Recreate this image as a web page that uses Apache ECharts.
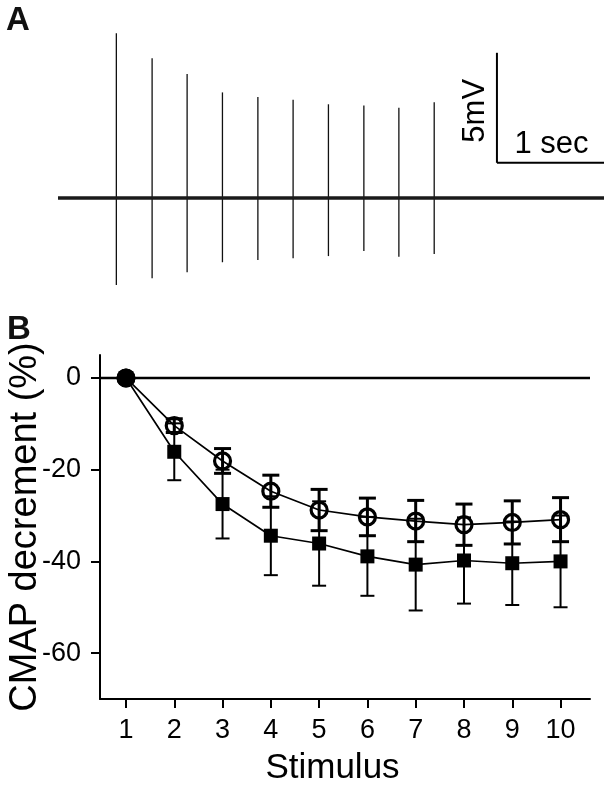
<!DOCTYPE html>
<html>
<head>
<meta charset="utf-8">
<script src="https://cdn.jsdelivr.net/npm/echarts@6/dist/echarts.min.js"></script>
<style>
html,body{margin:0;padding:0;background:#fff;}
#chart{width:612px;height:787px;}
</style>
</head>
<body>
<div id="chart"></div>
<script>
// ---------- Panel A: recording trace ----------
const spikeTimes  = [0.545, 0.879, 1.206, 1.536, 1.867, 2.196, 2.526, 2.857, 3.184, 3.514]; // s
const spikeTop    = [7.49, 6.35, 5.64, 4.80, 4.59, 4.47, 4.26, 4.21, 4.10, 4.35];           // mV
const spikeBottom = [-3.95, -3.65, -3.38, -2.92, -2.82, -2.74, -2.64, -2.41, -2.67, -2.55]; // mV
const traceTimes  = [0, 5.1];
const traceValues = [0, 0];
const scaleBar    = [4.1, 1.6, 1, 5]; // origin time, origin mV, 1 sec, 5 mV
const scaleLabels = ['5mV', '1 sec'];

// ---------- Panel B: CMAP decrement ----------
const stimulus    = [1, 2, 3, 4, 5, 6, 7, 8, 9, 10];
const circleMean  = [0, -10.4, -18.1, -24.7, -28.8, -30.3, -31.2, -32.0, -31.5, -30.9];
const circleSD    = [0, 1.5, 2.7, 3.5, 4.5, 4.1, 4.5, 4.5, 4.7, 4.8];
const squareMean  = [0, -16.1, -27.5, -34.4, -36.1, -38.9, -40.7, -39.8, -40.4, -40.0];
const squareSD    = [0, 6.2, 7.5, 8.6, 9.2, 8.6, 10.0, 9.4, 9.1, 10.0];
const yTicks      = [0, -20, -40, -60];
const xTicks      = [1, 2, 3, 4, 5, 6, 7, 8, 9, 10];

const FONT = 'Liberation Sans, Arial, sans-serif';

function errBars(lw, cap) {
  return function (params, api) {
    const x = api.value(0), m = api.value(1), sd = api.value(2);
    if (!sd) return null;
    const hi = api.coord([x, m + sd]);
    const lo = api.coord([x, m - sd]);
    const style = { stroke: '#000', lineWidth: lw, fill: null };
    return {
      type: 'group',
      children: [
        { type: 'line', shape: { x1: hi[0], y1: hi[1], x2: lo[0], y2: lo[1] }, style },
        { type: 'line', shape: { x1: hi[0] - cap / 2, y1: hi[1], x2: hi[0] + cap / 2, y2: hi[1] }, style },
        { type: 'line', shape: { x1: lo[0] - cap / 2, y1: lo[1], x2: lo[0] + cap / 2, y2: lo[1] }, style }
      ]
    };
  };
}

const chart = echarts.init(document.getElementById('chart'), null, { renderer: 'canvas' });

const squareData = stimulus.map((s, i) => {
  const d = { value: [s, squareMean[i]] };
  if (i === 0) { d.symbol = 'circle'; d.symbolSize = 19; }
  return d;
});
const circleData = stimulus.map((s, i) => {
  const d = { value: [s, circleMean[i]] };
  if (i === 0) { d.symbolSize = 19; d.itemStyle = { color: '#000', borderWidth: 0 }; }
  return d;
});

const option = {
  animation: false,
  backgroundColor: '#fff',
  textStyle: { fontFamily: FONT },
  graphic: [
    { type: 'text', left: 6, top: 4, style: { text: 'A', font: 'bold 33px ' + FONT, fill: '#111' } },
    { type: 'text', left: 7, top: 313, style: { text: 'B', font: 'bold 33px ' + FONT, fill: '#111' } }
  ],
  grid: [
    { left: 58, top: 11, width: 546, height: 297, outerBoundsMode: 'none', containLabel: false },
    { left: 100, top: 355, width: 490, height: 344, outerBoundsMode: 'none', containLabel: false }
  ],
  xAxis: [
    { gridIndex: 0, type: 'value', min: 0, max: 5.1, show: false },
    {
      gridIndex: 1, type: 'value', min: 0.462, max: 10.61, position: 'bottom',
      axisLine: { show: true, onZero: false, lineStyle: { color: '#000', width: 2 } },
      axisTick: { show: true, customValues: xTicks, length: 9, lineStyle: { color: '#000', width: 2 } },
      axisLabel: { customValues: xTicks, color: '#000', fontSize: 27, fontFamily: FONT, margin: 18 },
      splitLine: { show: false },
      name: 'Stimulus', nameLocation: 'middle', nameGap: 52, nameMoveOverlap: false,
      nameTextStyle: { color: '#000', fontSize: 35, fontFamily: FONT, padding: [0, 25, 0, 0] }
    }
  ],
  yAxis: [
    { gridIndex: 0, type: 'value', min: -5, max: 8.5, show: false },
    {
      gridIndex: 1, type: 'value', min: -70, max: 5, position: 'left',
      axisLine: { show: true, onZero: false, lineStyle: { color: '#000', width: 2 } },
      axisTick: { show: true, customValues: yTicks, length: 9, lineStyle: { color: '#000', width: 2 } },
      axisLabel: { customValues: yTicks, color: '#000', fontSize: 27, fontFamily: FONT, margin: 19 },
      splitLine: { show: false },
      name: 'CMAP decrement (%)', nameLocation: 'middle', nameRotate: 90, nameGap: 55, nameMoveOverlap: false,
      nameTextStyle: { color: '#000', fontSize: 38, fontFamily: FONT }
    }
  ],
  series: [
    // Panel A baseline
    {
      type: 'line', xAxisIndex: 0, yAxisIndex: 0, silent: true,
      data: traceTimes.map((t, i) => [t, traceValues[i]]),
      symbol: 'none', lineStyle: { color: '#1a1a1a', width: 3.5 }
    },
    // Panel A spikes
    {
      type: 'custom', xAxisIndex: 0, yAxisIndex: 0, silent: true,
      data: spikeTimes.map((t, i) => [t, spikeTop[i], spikeBottom[i]]),
      encode: { x: 0, y: [1, 2] },
      renderItem: function (params, api) {
        const a = api.coord([api.value(0), api.value(1)]);
        const b = api.coord([api.value(0), api.value(2)]);
        return { type: 'line', shape: { x1: a[0], y1: a[1], x2: b[0], y2: b[1] },
                 style: { stroke: '#111', lineWidth: 1.3 } };
      }
    },
    // Panel A scale bar
    {
      type: 'custom', xAxisIndex: 0, yAxisIndex: 0, silent: true, clip: false,
      data: [scaleBar],
      encode: { x: 0, y: 1 },
      renderItem: function (params, api) {
        const t0 = api.value(0), v0 = api.value(1), dt = api.value(2), dv = api.value(3);
        const o = api.coord([t0, v0]);
        const top = api.coord([t0, v0 + dv]);
        const right = api.coord([t0 + dt, v0]);
        const st = { stroke: '#000', lineWidth: 2 };
        return {
          type: 'group',
          children: [
            { type: 'line', shape: { x1: o[0], y1: o[1], x2: top[0], y2: top[1] }, style: st },
            { type: 'line', shape: { x1: o[0], y1: o[1], x2: right[0], y2: right[1] }, style: st },
            { type: 'text', x: o[0] - 21, y: (o[1] + top[1]) / 2 + 3, rotation: Math.PI / 2,
              style: { text: scaleLabels[0], font: '31px ' + FONT, fill: '#000', align: 'center', verticalAlign: 'middle' } },
            { type: 'text', x: (o[0] + right[0]) / 2 + 1, y: o[1] - 18,
              style: { text: scaleLabels[1], font: '31px ' + FONT, fill: '#000', align: 'center', verticalAlign: 'middle' } }
          ]
        };
      }
    },
    // Panel B: square error bars
    {
      type: 'custom', xAxisIndex: 1, yAxisIndex: 1, silent: true,
      data: stimulus.map((s, i) => [s, squareMean[i], squareSD[i]]),
      encode: { x: 0, y: 1 },
      renderItem: errBars(2, 14), z: 2
    },
    // Panel B: squares
    {
      type: 'line', xAxisIndex: 1, yAxisIndex: 1, silent: true,
      data: squareData, symbol: 'rect', symbolSize: 14, showAllSymbol: true,
      itemStyle: { color: '#000' }, lineStyle: { color: '#000', width: 1.7 }, z: 3,
      markLine: {
        silent: true, symbol: 'none', label: { show: false },
        lineStyle: { color: '#000', width: 2.4, type: 'solid' },
        emphasis: { disabled: true },
        data: [{ yAxis: 0 }]
      }
    },
    // Panel B: circle error bars
    {
      type: 'custom', xAxisIndex: 1, yAxisIndex: 1, silent: true,
      data: stimulus.map((s, i) => [s, circleMean[i], circleSD[i]]),
      encode: { x: 0, y: 1 },
      renderItem: errBars(3, 17), z: 4
    },
    // Panel B: circles
    {
      type: 'line', xAxisIndex: 1, yAxisIndex: 1, silent: true,
      data: circleData, symbol: 'circle', symbolSize: 16, showAllSymbol: true,
      itemStyle: { color: 'rgba(0,0,0,0)', borderColor: '#000', borderWidth: 3.2 },
      lineStyle: { color: '#000', width: 1.7 }, z: 5
    }
  ]
};
chart.setOption(option);
</script>
</body>
</html>
